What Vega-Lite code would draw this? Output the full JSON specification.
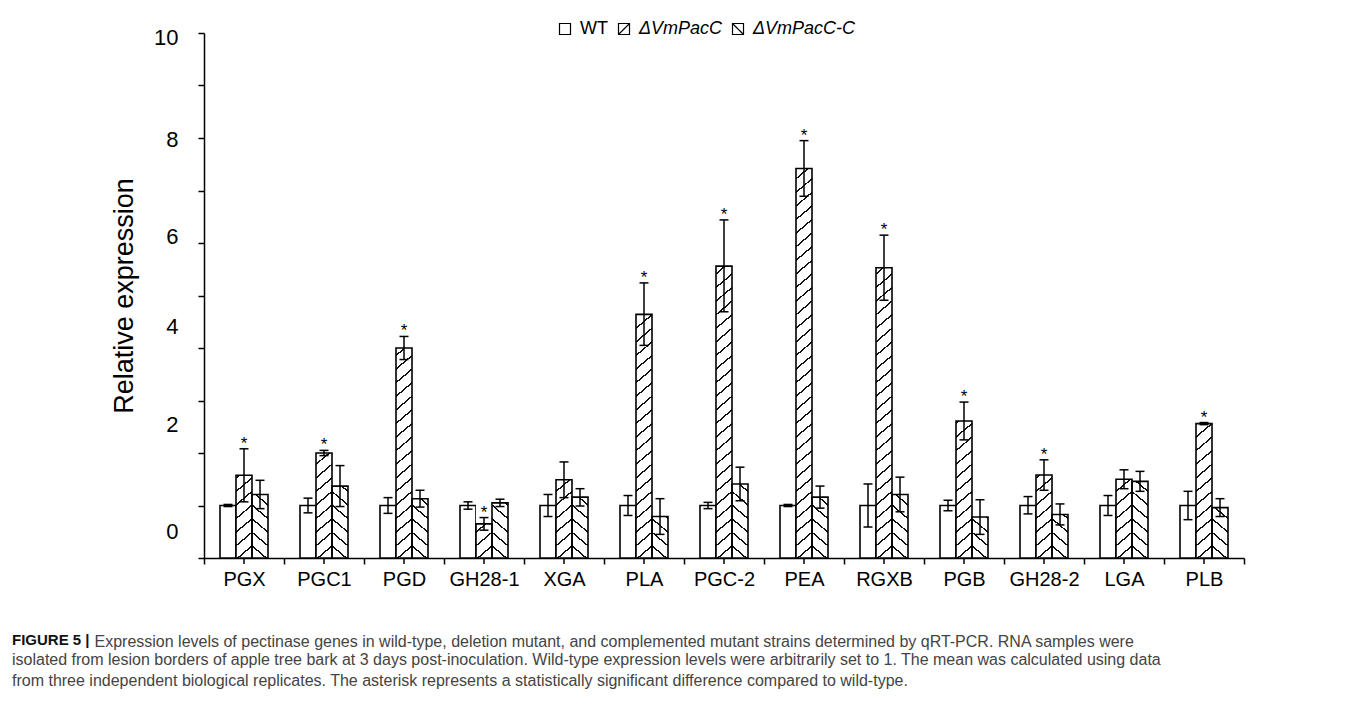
{
"$schema":"https://vega.github.io/schema/vega-lite/v6.json",
"width":1040,"height":525,
"autosize":{"type":"none"},
"padding":{"left":204,"top":33,"right":111,"bottom":147},
"background":"white",
"config":{"view":{"stroke":null},"font":"Liberation Sans","axis":{"labelFont":"Liberation Sans","titleFont":"Liberation Sans"}},
"title":{"text":"FIGURE 5 |","subtitle":["isolated from lesion borders of apple tree bark at 3 days post-inoculation. Wild-type expression levels were arbitrarily set to 1. The mean was calculated using data","from three independent biological replicates. The asterisk represents a statistically significant difference compared to wild-type."],"orient":"bottom","anchor":"start","frame":"group","offset":-16,"dx":-192,"font":"Liberation Sans","fontSize":15,"fontWeight":"bold","color":"#111","baseline":"top","subtitleFont":"Liberation Sans","subtitleFontSize":16,"subtitleFontWeight":"normal","subtitleColor":"#444","subtitleLineHeight":21,"subtitlePadding":4},
"data":{"values":[
{"gene":"PGX","series":"WT","value":1.0,"lo":0.98,"hi":1.02,"sig":false},
{"gene":"PGX","series":"ΔVmPacC","value":1.575,"lo":1.07,"hi":2.08,"sig":true},
{"gene":"PGX","series":"ΔVmPacC-C","value":1.21,"lo":0.94,"hi":1.48,"sig":false},
{"gene":"PGC1","series":"WT","value":1.0,"lo":0.86,"hi":1.14,"sig":false},
{"gene":"PGC1","series":"ΔVmPacC","value":2.0,"lo":1.95,"hi":2.05,"sig":true},
{"gene":"PGC1","series":"ΔVmPacC-C","value":1.37,"lo":0.98,"hi":1.76,"sig":false},
{"gene":"PGD","series":"WT","value":1.0,"lo":0.85,"hi":1.15,"sig":false},
{"gene":"PGD","series":"ΔVmPacC","value":4.0,"lo":3.78,"hi":4.22,"sig":true},
{"gene":"PGD","series":"ΔVmPacC-C","value":1.13,"lo":0.97,"hi":1.29,"sig":false},
{"gene":"GH28-1","series":"WT","value":1.0,"lo":0.93,"hi":1.07,"sig":false},
{"gene":"GH28-1","series":"ΔVmPacC","value":0.65,"lo":0.53,"hi":0.77,"sig":true},
{"gene":"GH28-1","series":"ΔVmPacC-C","value":1.05,"lo":0.98,"hi":1.12,"sig":false},
{"gene":"XGA","series":"WT","value":1.0,"lo":0.79,"hi":1.21,"sig":false},
{"gene":"XGA","series":"ΔVmPacC","value":1.49,"lo":1.15,"hi":1.83,"sig":false},
{"gene":"XGA","series":"ΔVmPacC-C","value":1.16,"lo":0.99,"hi":1.32,"sig":false},
{"gene":"PLA","series":"WT","value":1.0,"lo":0.81,"hi":1.19,"sig":false},
{"gene":"PLA","series":"ΔVmPacC","value":4.64,"lo":4.05,"hi":5.24,"sig":true},
{"gene":"PLA","series":"ΔVmPacC-C","value":0.79,"lo":0.45,"hi":1.13,"sig":false},
{"gene":"PGC-2","series":"WT","value":1.0,"lo":0.94,"hi":1.06,"sig":false},
{"gene":"PGC-2","series":"ΔVmPacC","value":5.56,"lo":4.69,"hi":6.44,"sig":true},
{"gene":"PGC-2","series":"ΔVmPacC-C","value":1.41,"lo":1.09,"hi":1.73,"sig":false},
{"gene":"PEA","series":"WT","value":1.0,"lo":0.98,"hi":1.02,"sig":false},
{"gene":"PEA","series":"ΔVmPacC","value":7.42,"lo":6.89,"hi":7.95,"sig":true},
{"gene":"PEA","series":"ΔVmPacC-C","value":1.16,"lo":0.95,"hi":1.37,"sig":false},
{"gene":"RGXB","series":"WT","value":1.0,"lo":0.59,"hi":1.41,"sig":false},
{"gene":"RGXB","series":"ΔVmPacC","value":5.53,"lo":4.91,"hi":6.15,"sig":true},
{"gene":"RGXB","series":"ΔVmPacC-C","value":1.21,"lo":0.88,"hi":1.54,"sig":false},
{"gene":"PGB","series":"WT","value":1.0,"lo":0.9,"hi":1.1,"sig":false},
{"gene":"PGB","series":"ΔVmPacC","value":2.61,"lo":2.25,"hi":2.97,"sig":true},
{"gene":"PGB","series":"ΔVmPacC-C","value":0.78,"lo":0.45,"hi":1.11,"sig":false},
{"gene":"GH28-2","series":"WT","value":1.0,"lo":0.84,"hi":1.17,"sig":false},
{"gene":"GH28-2","series":"ΔVmPacC","value":1.58,"lo":1.29,"hi":1.87,"sig":true},
{"gene":"GH28-2","series":"ΔVmPacC-C","value":0.83,"lo":0.63,"hi":1.03,"sig":false},
{"gene":"LGA","series":"WT","value":1.0,"lo":0.81,"hi":1.19,"sig":false},
{"gene":"LGA","series":"ΔVmPacC","value":1.5,"lo":1.32,"hi":1.68,"sig":false},
{"gene":"LGA","series":"ΔVmPacC-C","value":1.46,"lo":1.27,"hi":1.65,"sig":false},
{"gene":"PLB","series":"WT","value":1.0,"lo":0.73,"hi":1.27,"sig":false},
{"gene":"PLB","series":"ΔVmPacC","value":2.56,"lo":2.54,"hi":2.58,"sig":true},
{"gene":"PLB","series":"ΔVmPacC-C","value":0.96,"lo":0.79,"hi":1.13,"sig":false}
]},
"resolve":{"scale":{"shape":"independent"}},
"layer":[
{"transform":[{"filter":"datum.series === 'WT'"}],
 "mark":{"type":"bar","fill":"white","stroke":"black","strokeWidth":1.6,"opacity":1},
 "encoding":{
  "x":{"field":"gene","type":"nominal","scale":{"domain":["PGX","PGC1","PGD","GH28-1","XGA","PLA","PGC-2","PEA","RGXB","PGB","GH28-2","LGA","PLB"],"paddingInner":0,"paddingOuter":0},"axis":{"orient":"bottom","tickBand":"extent","labelAngle":0,"labelFontSize":20,"labelColor":"black","labelPadding":5,"domainColor":"black","domainWidth":1.5,"tickColor":"black","tickWidth":1.5,"tickSize":6,"labelOverlap":false,"title":"Expression levels of pectinase genes in wild-type, deletion mutant, and complemented mutant strains determined by qRT-PCR. RNA samples were","titleX":-110,"titleY":83,"titleAlign":"left","titleAnchor":"start","titleBaseline":"middle","titleAngle":0,"titleFontSize":16,"titleFontWeight":"normal","titleColor":"#444"}},
  "xOffset":{"field":"series","type":"nominal","scale":{"domain":["WT","ΔVmPacC","ΔVmPacC-C"],"paddingInner":0,"paddingOuter":1.44}},
  "y":{"field":"value","type":"quantitative","scale":{"domain":[0,10],"nice":false},"axis":{"orient":"left","values":[0,1,2,3,4,5,6,7,8,9,10],"labelExpr":"datum.value % 2 === 0 ? datum.label : ''","grid":false,"domainColor":"black","domainWidth":1.5,"tickColor":"black","tickWidth":1.5,"tickSize":6,"labelFontSize":22,"labelColor":"black","labelPadding":20,"labelFlush":false,"labelOverlap":false,"labelOffset":{"condition":[{"test":"datum.value === 0","value":-27},{"test":"datum.value === 2","value":-29},{"test":"datum.value === 4","value":-22},{"test":"datum.value === 6","value":-7},{"test":"datum.value === 8","value":1},{"test":"datum.value === 10","value":4}],"value":0},"title":"Relative expression","titleFontSize":27,"titleFontWeight":"normal","titleColor":"black","titlePadding":15}}}},
{"transform":[{"filter":"datum.series === 'ΔVmPacC'"}],
 "mark":{"type":"bar","strokeWidth":0,"opacity":1,"fill":{"gradient":"linear","x1":0,"y1":0,"x2":0.0358,"y2":1.0346,"stops":[{"offset":0,"color":"#fff"},{"offset":0.0333,"color":"#fff"},
{"offset":0.0333,"color":"#111"},{"offset":0.0378,"color":"#111"},{"offset":0.0378,"color":"#fff"},{"offset":0.0667,"color":"#fff"},
{"offset":0.0667,"color":"#111"},{"offset":0.0712,"color":"#111"},{"offset":0.0712,"color":"#fff"},{"offset":0.1,"color":"#fff"},
{"offset":0.1,"color":"#111"},{"offset":0.1045,"color":"#111"},{"offset":0.1045,"color":"#fff"},{"offset":0.1333,"color":"#fff"},
{"offset":0.1333,"color":"#111"},{"offset":0.1378,"color":"#111"},{"offset":0.1378,"color":"#fff"},{"offset":0.1667,"color":"#fff"},
{"offset":0.1667,"color":"#111"},{"offset":0.1712,"color":"#111"},{"offset":0.1712,"color":"#fff"},{"offset":0.2,"color":"#fff"},
{"offset":0.2,"color":"#111"},{"offset":0.2045,"color":"#111"},{"offset":0.2045,"color":"#fff"},{"offset":0.2333,"color":"#fff"},
{"offset":0.2333,"color":"#111"},{"offset":0.2378,"color":"#111"},{"offset":0.2378,"color":"#fff"},{"offset":0.2667,"color":"#fff"},
{"offset":0.2667,"color":"#111"},{"offset":0.2712,"color":"#111"},{"offset":0.2712,"color":"#fff"},{"offset":0.3,"color":"#fff"},
{"offset":0.3,"color":"#111"},{"offset":0.3045,"color":"#111"},{"offset":0.3045,"color":"#fff"},{"offset":0.3333,"color":"#fff"},
{"offset":0.3333,"color":"#111"},{"offset":0.3378,"color":"#111"},{"offset":0.3378,"color":"#fff"},{"offset":0.3667,"color":"#fff"},
{"offset":0.3667,"color":"#111"},{"offset":0.3712,"color":"#111"},{"offset":0.3712,"color":"#fff"},{"offset":0.4,"color":"#fff"},
{"offset":0.4,"color":"#111"},{"offset":0.4045,"color":"#111"},{"offset":0.4045,"color":"#fff"},{"offset":0.4333,"color":"#fff"},
{"offset":0.4333,"color":"#111"},{"offset":0.4378,"color":"#111"},{"offset":0.4378,"color":"#fff"},{"offset":0.4667,"color":"#fff"},
{"offset":0.4667,"color":"#111"},{"offset":0.4712,"color":"#111"},{"offset":0.4712,"color":"#fff"},{"offset":0.5,"color":"#fff"},
{"offset":0.5,"color":"#111"},{"offset":0.5045,"color":"#111"},{"offset":0.5045,"color":"#fff"},{"offset":0.5333,"color":"#fff"},
{"offset":0.5333,"color":"#111"},{"offset":0.5378,"color":"#111"},{"offset":0.5378,"color":"#fff"},{"offset":0.5667,"color":"#fff"},
{"offset":0.5667,"color":"#111"},{"offset":0.5712,"color":"#111"},{"offset":0.5712,"color":"#fff"},{"offset":0.6,"color":"#fff"},
{"offset":0.6,"color":"#111"},{"offset":0.6045,"color":"#111"},{"offset":0.6045,"color":"#fff"},{"offset":0.6333,"color":"#fff"},
{"offset":0.6333,"color":"#111"},{"offset":0.6378,"color":"#111"},{"offset":0.6378,"color":"#fff"},{"offset":0.6667,"color":"#fff"},
{"offset":0.6667,"color":"#111"},{"offset":0.6712,"color":"#111"},{"offset":0.6712,"color":"#fff"},{"offset":0.7,"color":"#fff"},
{"offset":0.7,"color":"#111"},{"offset":0.7045,"color":"#111"},{"offset":0.7045,"color":"#fff"},{"offset":0.7333,"color":"#fff"},
{"offset":0.7333,"color":"#111"},{"offset":0.7378,"color":"#111"},{"offset":0.7378,"color":"#fff"},{"offset":0.7667,"color":"#fff"},
{"offset":0.7667,"color":"#111"},{"offset":0.7712,"color":"#111"},{"offset":0.7712,"color":"#fff"},{"offset":0.8,"color":"#fff"},
{"offset":0.8,"color":"#111"},{"offset":0.8045,"color":"#111"},{"offset":0.8045,"color":"#fff"},{"offset":0.8333,"color":"#fff"},
{"offset":0.8333,"color":"#111"},{"offset":0.8378,"color":"#111"},{"offset":0.8378,"color":"#fff"},{"offset":0.8667,"color":"#fff"},
{"offset":0.8667,"color":"#111"},{"offset":0.8712,"color":"#111"},{"offset":0.8712,"color":"#fff"},{"offset":0.9,"color":"#fff"},
{"offset":0.9,"color":"#111"},{"offset":0.9045,"color":"#111"},{"offset":0.9045,"color":"#fff"},{"offset":0.9333,"color":"#fff"},
{"offset":0.9333,"color":"#111"},{"offset":0.9378,"color":"#111"},{"offset":0.9378,"color":"#fff"},{"offset":0.9667,"color":"#fff"},
{"offset":0.9667,"color":"#111"},{"offset":0.9712,"color":"#111"},{"offset":0.9712,"color":"#fff"},{"offset":1,"color":"#fff"}]}},
 "encoding":{
  "x":{"field":"gene","type":"nominal","scale":{"domain":["PGX","PGC1","PGD","GH28-1","XGA","PLA","PGC-2","PEA","RGXB","PGB","GH28-2","LGA","PLB"],"paddingInner":0,"paddingOuter":0},"axis":{"orient":"bottom","tickBand":"extent","labelAngle":0,"labelFontSize":20,"labelColor":"black","labelPadding":5,"domainColor":"black","domainWidth":1.5,"tickColor":"black","tickWidth":1.5,"tickSize":6,"labelOverlap":false,"title":"Expression levels of pectinase genes in wild-type, deletion mutant, and complemented mutant strains determined by qRT-PCR. RNA samples were","titleX":-110,"titleY":83,"titleAlign":"left","titleAnchor":"start","titleBaseline":"middle","titleAngle":0,"titleFontSize":16,"titleFontWeight":"normal","titleColor":"#444"}},
  "xOffset":{"field":"series","type":"nominal","scale":{"domain":["WT","ΔVmPacC","ΔVmPacC-C"],"paddingInner":0,"paddingOuter":1.44}},
  "y":{"datum":0,"type":"quantitative","scale":{"domain":[0,10],"nice":false},"axis":{"orient":"left","values":[0,1,2,3,4,5,6,7,8,9,10],"labelExpr":"datum.value % 2 === 0 ? datum.label : ''","grid":false,"domainColor":"black","domainWidth":1.5,"tickColor":"black","tickWidth":1.5,"tickSize":6,"labelFontSize":22,"labelColor":"black","labelPadding":20,"labelFlush":false,"labelOverlap":false,"labelOffset":{"condition":[{"test":"datum.value === 0","value":-27},{"test":"datum.value === 2","value":-29},{"test":"datum.value === 4","value":-22},{"test":"datum.value === 6","value":-7},{"test":"datum.value === 8","value":1},{"test":"datum.value === 10","value":4}],"value":0},"title":"Relative expression","titleFontSize":27,"titleFontWeight":"normal","titleColor":"black","titlePadding":15}},
  "y2":{"datum":7.5}}},
{"transform":[{"filter":"datum.series === 'ΔVmPacC-C'"}],
 "mark":{"type":"bar","strokeWidth":0,"opacity":1,"fill":{"gradient":"linear","x1":1,"y1":0,"x2":0.9643,"y2":1.0346,"stops":[{"offset":0,"color":"#fff"},{"offset":0.0333,"color":"#fff"},
{"offset":0.0333,"color":"#111"},{"offset":0.0378,"color":"#111"},{"offset":0.0378,"color":"#fff"},{"offset":0.0667,"color":"#fff"},
{"offset":0.0667,"color":"#111"},{"offset":0.0712,"color":"#111"},{"offset":0.0712,"color":"#fff"},{"offset":0.1,"color":"#fff"},
{"offset":0.1,"color":"#111"},{"offset":0.1045,"color":"#111"},{"offset":0.1045,"color":"#fff"},{"offset":0.1333,"color":"#fff"},
{"offset":0.1333,"color":"#111"},{"offset":0.1378,"color":"#111"},{"offset":0.1378,"color":"#fff"},{"offset":0.1667,"color":"#fff"},
{"offset":0.1667,"color":"#111"},{"offset":0.1712,"color":"#111"},{"offset":0.1712,"color":"#fff"},{"offset":0.2,"color":"#fff"},
{"offset":0.2,"color":"#111"},{"offset":0.2045,"color":"#111"},{"offset":0.2045,"color":"#fff"},{"offset":0.2333,"color":"#fff"},
{"offset":0.2333,"color":"#111"},{"offset":0.2378,"color":"#111"},{"offset":0.2378,"color":"#fff"},{"offset":0.2667,"color":"#fff"},
{"offset":0.2667,"color":"#111"},{"offset":0.2712,"color":"#111"},{"offset":0.2712,"color":"#fff"},{"offset":0.3,"color":"#fff"},
{"offset":0.3,"color":"#111"},{"offset":0.3045,"color":"#111"},{"offset":0.3045,"color":"#fff"},{"offset":0.3333,"color":"#fff"},
{"offset":0.3333,"color":"#111"},{"offset":0.3378,"color":"#111"},{"offset":0.3378,"color":"#fff"},{"offset":0.3667,"color":"#fff"},
{"offset":0.3667,"color":"#111"},{"offset":0.3712,"color":"#111"},{"offset":0.3712,"color":"#fff"},{"offset":0.4,"color":"#fff"},
{"offset":0.4,"color":"#111"},{"offset":0.4045,"color":"#111"},{"offset":0.4045,"color":"#fff"},{"offset":0.4333,"color":"#fff"},
{"offset":0.4333,"color":"#111"},{"offset":0.4378,"color":"#111"},{"offset":0.4378,"color":"#fff"},{"offset":0.4667,"color":"#fff"},
{"offset":0.4667,"color":"#111"},{"offset":0.4712,"color":"#111"},{"offset":0.4712,"color":"#fff"},{"offset":0.5,"color":"#fff"},
{"offset":0.5,"color":"#111"},{"offset":0.5045,"color":"#111"},{"offset":0.5045,"color":"#fff"},{"offset":0.5333,"color":"#fff"},
{"offset":0.5333,"color":"#111"},{"offset":0.5378,"color":"#111"},{"offset":0.5378,"color":"#fff"},{"offset":0.5667,"color":"#fff"},
{"offset":0.5667,"color":"#111"},{"offset":0.5712,"color":"#111"},{"offset":0.5712,"color":"#fff"},{"offset":0.6,"color":"#fff"},
{"offset":0.6,"color":"#111"},{"offset":0.6045,"color":"#111"},{"offset":0.6045,"color":"#fff"},{"offset":0.6333,"color":"#fff"},
{"offset":0.6333,"color":"#111"},{"offset":0.6378,"color":"#111"},{"offset":0.6378,"color":"#fff"},{"offset":0.6667,"color":"#fff"},
{"offset":0.6667,"color":"#111"},{"offset":0.6712,"color":"#111"},{"offset":0.6712,"color":"#fff"},{"offset":0.7,"color":"#fff"},
{"offset":0.7,"color":"#111"},{"offset":0.7045,"color":"#111"},{"offset":0.7045,"color":"#fff"},{"offset":0.7333,"color":"#fff"},
{"offset":0.7333,"color":"#111"},{"offset":0.7378,"color":"#111"},{"offset":0.7378,"color":"#fff"},{"offset":0.7667,"color":"#fff"},
{"offset":0.7667,"color":"#111"},{"offset":0.7712,"color":"#111"},{"offset":0.7712,"color":"#fff"},{"offset":0.8,"color":"#fff"},
{"offset":0.8,"color":"#111"},{"offset":0.8045,"color":"#111"},{"offset":0.8045,"color":"#fff"},{"offset":0.8333,"color":"#fff"},
{"offset":0.8333,"color":"#111"},{"offset":0.8378,"color":"#111"},{"offset":0.8378,"color":"#fff"},{"offset":0.8667,"color":"#fff"},
{"offset":0.8667,"color":"#111"},{"offset":0.8712,"color":"#111"},{"offset":0.8712,"color":"#fff"},{"offset":0.9,"color":"#fff"},
{"offset":0.9,"color":"#111"},{"offset":0.9045,"color":"#111"},{"offset":0.9045,"color":"#fff"},{"offset":0.9333,"color":"#fff"},
{"offset":0.9333,"color":"#111"},{"offset":0.9378,"color":"#111"},{"offset":0.9378,"color":"#fff"},{"offset":0.9667,"color":"#fff"},
{"offset":0.9667,"color":"#111"},{"offset":0.9712,"color":"#111"},{"offset":0.9712,"color":"#fff"},{"offset":1,"color":"#fff"}]}},
 "encoding":{
  "x":{"field":"gene","type":"nominal","scale":{"domain":["PGX","PGC1","PGD","GH28-1","XGA","PLA","PGC-2","PEA","RGXB","PGB","GH28-2","LGA","PLB"],"paddingInner":0,"paddingOuter":0},"axis":{"orient":"bottom","tickBand":"extent","labelAngle":0,"labelFontSize":20,"labelColor":"black","labelPadding":5,"domainColor":"black","domainWidth":1.5,"tickColor":"black","tickWidth":1.5,"tickSize":6,"labelOverlap":false,"title":"Expression levels of pectinase genes in wild-type, deletion mutant, and complemented mutant strains determined by qRT-PCR. RNA samples were","titleX":-110,"titleY":83,"titleAlign":"left","titleAnchor":"start","titleBaseline":"middle","titleAngle":0,"titleFontSize":16,"titleFontWeight":"normal","titleColor":"#444"}},
  "xOffset":{"field":"series","type":"nominal","scale":{"domain":["WT","ΔVmPacC","ΔVmPacC-C"],"paddingInner":0,"paddingOuter":1.44}},
  "y":{"datum":0,"type":"quantitative","scale":{"domain":[0,10],"nice":false},"axis":{"orient":"left","values":[0,1,2,3,4,5,6,7,8,9,10],"labelExpr":"datum.value % 2 === 0 ? datum.label : ''","grid":false,"domainColor":"black","domainWidth":1.5,"tickColor":"black","tickWidth":1.5,"tickSize":6,"labelFontSize":22,"labelColor":"black","labelPadding":20,"labelFlush":false,"labelOverlap":false,"labelOffset":{"condition":[{"test":"datum.value === 0","value":-27},{"test":"datum.value === 2","value":-29},{"test":"datum.value === 4","value":-22},{"test":"datum.value === 6","value":-7},{"test":"datum.value === 8","value":1},{"test":"datum.value === 10","value":4}],"value":0},"title":"Relative expression","titleFontSize":27,"titleFontWeight":"normal","titleColor":"black","titlePadding":15}},
  "y2":{"datum":7.5}}},
{"transform":[{"filter":"datum.series !== 'WT'"}],
 "mark":{"type":"bar","fill":"white","strokeWidth":0,"opacity":1},
 "encoding":{
  "x":{"field":"gene","type":"nominal","scale":{"domain":["PGX","PGC1","PGD","GH28-1","XGA","PLA","PGC-2","PEA","RGXB","PGB","GH28-2","LGA","PLB"],"paddingInner":0,"paddingOuter":0},"axis":{"orient":"bottom","tickBand":"extent","labelAngle":0,"labelFontSize":20,"labelColor":"black","labelPadding":5,"domainColor":"black","domainWidth":1.5,"tickColor":"black","tickWidth":1.5,"tickSize":6,"labelOverlap":false,"title":"Expression levels of pectinase genes in wild-type, deletion mutant, and complemented mutant strains determined by qRT-PCR. RNA samples were","titleX":-110,"titleY":83,"titleAlign":"left","titleAnchor":"start","titleBaseline":"middle","titleAngle":0,"titleFontSize":16,"titleFontWeight":"normal","titleColor":"#444"}},
  "xOffset":{"field":"series","type":"nominal","scale":{"domain":["WT","ΔVmPacC","ΔVmPacC-C"],"paddingInner":0,"paddingOuter":1.44}},
  "y":{"field":"value","type":"quantitative","scale":{"domain":[0,10],"nice":false},"axis":{"orient":"left","values":[0,1,2,3,4,5,6,7,8,9,10],"labelExpr":"datum.value % 2 === 0 ? datum.label : ''","grid":false,"domainColor":"black","domainWidth":1.5,"tickColor":"black","tickWidth":1.5,"tickSize":6,"labelFontSize":22,"labelColor":"black","labelPadding":20,"labelFlush":false,"labelOverlap":false,"labelOffset":{"condition":[{"test":"datum.value === 0","value":-27},{"test":"datum.value === 2","value":-29},{"test":"datum.value === 4","value":-22},{"test":"datum.value === 6","value":-7},{"test":"datum.value === 8","value":1},{"test":"datum.value === 10","value":4}],"value":0},"title":"Relative expression","titleFontSize":27,"titleFontWeight":"normal","titleColor":"black","titlePadding":15}},
  "y2":{"datum":7.6}}},
{"transform":[{"filter":"datum.series !== 'WT'"}],
 "mark":{"type":"bar","fill":"white","fillOpacity":0,"stroke":"black","strokeWidth":1.6,"opacity":1},
 "encoding":{
  "x":{"field":"gene","type":"nominal","scale":{"domain":["PGX","PGC1","PGD","GH28-1","XGA","PLA","PGC-2","PEA","RGXB","PGB","GH28-2","LGA","PLB"],"paddingInner":0,"paddingOuter":0},"axis":{"orient":"bottom","tickBand":"extent","labelAngle":0,"labelFontSize":20,"labelColor":"black","labelPadding":5,"domainColor":"black","domainWidth":1.5,"tickColor":"black","tickWidth":1.5,"tickSize":6,"labelOverlap":false,"title":"Expression levels of pectinase genes in wild-type, deletion mutant, and complemented mutant strains determined by qRT-PCR. RNA samples were","titleX":-110,"titleY":83,"titleAlign":"left","titleAnchor":"start","titleBaseline":"middle","titleAngle":0,"titleFontSize":16,"titleFontWeight":"normal","titleColor":"#444"}},
  "xOffset":{"field":"series","type":"nominal","scale":{"domain":["WT","ΔVmPacC","ΔVmPacC-C"],"paddingInner":0,"paddingOuter":1.44}},
  "y":{"field":"value","type":"quantitative","scale":{"domain":[0,10],"nice":false},"axis":{"orient":"left","values":[0,1,2,3,4,5,6,7,8,9,10],"labelExpr":"datum.value % 2 === 0 ? datum.label : ''","grid":false,"domainColor":"black","domainWidth":1.5,"tickColor":"black","tickWidth":1.5,"tickSize":6,"labelFontSize":22,"labelColor":"black","labelPadding":20,"labelFlush":false,"labelOverlap":false,"labelOffset":{"condition":[{"test":"datum.value === 0","value":-27},{"test":"datum.value === 2","value":-29},{"test":"datum.value === 4","value":-22},{"test":"datum.value === 6","value":-7},{"test":"datum.value === 8","value":1},{"test":"datum.value === 10","value":4}],"value":0},"title":"Relative expression","titleFontSize":27,"titleFontWeight":"normal","titleColor":"black","titlePadding":15}}}},
{"transform":[{"filter":"datum.series === 'WT'"}],
 "mark":{"type":"rule","color":"black","strokeWidth":1.5,"opacity":1},
 "encoding":{
  "x":{"field":"gene","type":"nominal","scale":{"domain":["PGX","PGC1","PGD","GH28-1","XGA","PLA","PGC-2","PEA","RGXB","PGB","GH28-2","LGA","PLB"],"paddingInner":0,"paddingOuter":0},"axis":{"orient":"bottom","tickBand":"extent","labelAngle":0,"labelFontSize":20,"labelColor":"black","labelPadding":5,"domainColor":"black","domainWidth":1.5,"tickColor":"black","tickWidth":1.5,"tickSize":6,"labelOverlap":false,"title":"Expression levels of pectinase genes in wild-type, deletion mutant, and complemented mutant strains determined by qRT-PCR. RNA samples were","titleX":-110,"titleY":83,"titleAlign":"left","titleAnchor":"start","titleBaseline":"middle","titleAngle":0,"titleFontSize":16,"titleFontWeight":"normal","titleColor":"#444"}},
  "y":{"datum":0,"type":"quantitative","scale":{"domain":[0,10],"nice":false},"axis":{"orient":"left","values":[0,1,2,3,4,5,6,7,8,9,10],"labelExpr":"datum.value % 2 === 0 ? datum.label : ''","grid":false,"domainColor":"black","domainWidth":1.5,"tickColor":"black","tickWidth":1.5,"tickSize":6,"labelFontSize":22,"labelColor":"black","labelPadding":20,"labelFlush":false,"labelOverlap":false,"labelOffset":{"condition":[{"test":"datum.value === 0","value":-27},{"test":"datum.value === 2","value":-29},{"test":"datum.value === 4","value":-22},{"test":"datum.value === 6","value":-7},{"test":"datum.value === 8","value":1},{"test":"datum.value === 10","value":4}],"value":0},"title":"Relative expression","titleFontSize":27,"titleFontWeight":"normal","titleColor":"black","titlePadding":15}},
  "y2":{"datum":-0.115}}},
{"mark":{"type":"rule","color":"black","strokeWidth":1.5,"opacity":1},
 "encoding":{
  "x":{"field":"gene","type":"nominal","scale":{"domain":["PGX","PGC1","PGD","GH28-1","XGA","PLA","PGC-2","PEA","RGXB","PGB","GH28-2","LGA","PLB"],"paddingInner":0,"paddingOuter":0},"axis":{"orient":"bottom","tickBand":"extent","labelAngle":0,"labelFontSize":20,"labelColor":"black","labelPadding":5,"domainColor":"black","domainWidth":1.5,"tickColor":"black","tickWidth":1.5,"tickSize":6,"labelOverlap":false,"title":"Expression levels of pectinase genes in wild-type, deletion mutant, and complemented mutant strains determined by qRT-PCR. RNA samples were","titleX":-110,"titleY":83,"titleAlign":"left","titleAnchor":"start","titleBaseline":"middle","titleAngle":0,"titleFontSize":16,"titleFontWeight":"normal","titleColor":"#444"}},
  "xOffset":{"field":"series","type":"nominal","scale":{"domain":["WT","ΔVmPacC","ΔVmPacC-C"],"paddingInner":0,"paddingOuter":1.44}},
  "y":{"field":"lo","type":"quantitative","scale":{"domain":[0,10],"nice":false},"axis":{"orient":"left","values":[0,1,2,3,4,5,6,7,8,9,10],"labelExpr":"datum.value % 2 === 0 ? datum.label : ''","grid":false,"domainColor":"black","domainWidth":1.5,"tickColor":"black","tickWidth":1.5,"tickSize":6,"labelFontSize":22,"labelColor":"black","labelPadding":20,"labelFlush":false,"labelOverlap":false,"labelOffset":{"condition":[{"test":"datum.value === 0","value":-27},{"test":"datum.value === 2","value":-29},{"test":"datum.value === 4","value":-22},{"test":"datum.value === 6","value":-7},{"test":"datum.value === 8","value":1},{"test":"datum.value === 10","value":4}],"value":0},"title":"Relative expression","titleFontSize":27,"titleFontWeight":"normal","titleColor":"black","titlePadding":15}},
  "y2":{"field":"hi"}}},
{"transform":[{"fold":["lo","hi"],"as":["end","yv"]}],
 "mark":{"type":"tick","orient":"horizontal","color":"black","thickness":1.5,"size":9,"opacity":1},
 "encoding":{
  "x":{"field":"gene","type":"nominal","scale":{"domain":["PGX","PGC1","PGD","GH28-1","XGA","PLA","PGC-2","PEA","RGXB","PGB","GH28-2","LGA","PLB"],"paddingInner":0,"paddingOuter":0},"axis":{"orient":"bottom","tickBand":"extent","labelAngle":0,"labelFontSize":20,"labelColor":"black","labelPadding":5,"domainColor":"black","domainWidth":1.5,"tickColor":"black","tickWidth":1.5,"tickSize":6,"labelOverlap":false,"title":"Expression levels of pectinase genes in wild-type, deletion mutant, and complemented mutant strains determined by qRT-PCR. RNA samples were","titleX":-110,"titleY":83,"titleAlign":"left","titleAnchor":"start","titleBaseline":"middle","titleAngle":0,"titleFontSize":16,"titleFontWeight":"normal","titleColor":"#444"}},
  "xOffset":{"field":"series","type":"nominal","scale":{"domain":["WT","ΔVmPacC","ΔVmPacC-C"],"paddingInner":0,"paddingOuter":1.44}},
  "y":{"field":"yv","type":"quantitative","scale":{"domain":[0,10],"nice":false},"axis":{"orient":"left","values":[0,1,2,3,4,5,6,7,8,9,10],"labelExpr":"datum.value % 2 === 0 ? datum.label : ''","grid":false,"domainColor":"black","domainWidth":1.5,"tickColor":"black","tickWidth":1.5,"tickSize":6,"labelFontSize":22,"labelColor":"black","labelPadding":20,"labelFlush":false,"labelOverlap":false,"labelOffset":{"condition":[{"test":"datum.value === 0","value":-27},{"test":"datum.value === 2","value":-29},{"test":"datum.value === 4","value":-22},{"test":"datum.value === 6","value":-7},{"test":"datum.value === 8","value":1},{"test":"datum.value === 10","value":4}],"value":0},"title":"Relative expression","titleFontSize":27,"titleFontWeight":"normal","titleColor":"black","titlePadding":15}}}},
{"transform":[{"filter":"datum.sig"}],
 "mark":{"type":"text","text":"*","fontSize":17,"baseline":"alphabetic","color":"black","font":"Liberation Sans"},
 "encoding":{
  "x":{"field":"gene","type":"nominal","scale":{"domain":["PGX","PGC1","PGD","GH28-1","XGA","PLA","PGC-2","PEA","RGXB","PGB","GH28-2","LGA","PLB"],"paddingInner":0,"paddingOuter":0},"axis":{"orient":"bottom","tickBand":"extent","labelAngle":0,"labelFontSize":20,"labelColor":"black","labelPadding":5,"domainColor":"black","domainWidth":1.5,"tickColor":"black","tickWidth":1.5,"tickSize":6,"labelOverlap":false,"title":"Expression levels of pectinase genes in wild-type, deletion mutant, and complemented mutant strains determined by qRT-PCR. RNA samples were","titleX":-110,"titleY":83,"titleAlign":"left","titleAnchor":"start","titleBaseline":"middle","titleAngle":0,"titleFontSize":16,"titleFontWeight":"normal","titleColor":"#444"}},
  "xOffset":{"field":"series","type":"nominal","scale":{"domain":["WT","ΔVmPacC","ΔVmPacC-C"],"paddingInner":0,"paddingOuter":1.44}},
  "y":{"field":"hi","type":"quantitative","scale":{"domain":[0,10],"nice":false},"axis":{"orient":"left","values":[0,1,2,3,4,5,6,7,8,9,10],"labelExpr":"datum.value % 2 === 0 ? datum.label : ''","grid":false,"domainColor":"black","domainWidth":1.5,"tickColor":"black","tickWidth":1.5,"tickSize":6,"labelFontSize":22,"labelColor":"black","labelPadding":20,"labelFlush":false,"labelOverlap":false,"labelOffset":{"condition":[{"test":"datum.value === 0","value":-27},{"test":"datum.value === 2","value":-29},{"test":"datum.value === 4","value":-22},{"test":"datum.value === 6","value":-7},{"test":"datum.value === 8","value":1},{"test":"datum.value === 10","value":4}],"value":0},"title":"Relative expression","titleFontSize":27,"titleFontWeight":"normal","titleColor":"black","titlePadding":15}}}},
{"transform":[{"filter":"datum.series === 'WT'"}],
 "mark":{"type":"point","opacity":0,"filled":false},
 "encoding":{
  "x":{"field":"gene","type":"nominal","scale":{"domain":["PGX","PGC1","PGD","GH28-1","XGA","PLA","PGC-2","PEA","RGXB","PGB","GH28-2","LGA","PLB"],"paddingInner":0,"paddingOuter":0},"axis":{"orient":"bottom","tickBand":"extent","labelAngle":0,"labelFontSize":20,"labelColor":"black","labelPadding":5,"domainColor":"black","domainWidth":1.5,"tickColor":"black","tickWidth":1.5,"tickSize":6,"labelOverlap":false,"title":"Expression levels of pectinase genes in wild-type, deletion mutant, and complemented mutant strains determined by qRT-PCR. RNA samples were","titleX":-110,"titleY":83,"titleAlign":"left","titleAnchor":"start","titleBaseline":"middle","titleAngle":0,"titleFontSize":16,"titleFontWeight":"normal","titleColor":"#444"}},
  "y":{"field":"value","type":"quantitative","scale":{"domain":[0,10],"nice":false},"axis":{"orient":"left","values":[0,1,2,3,4,5,6,7,8,9,10],"labelExpr":"datum.value % 2 === 0 ? datum.label : ''","grid":false,"domainColor":"black","domainWidth":1.5,"tickColor":"black","tickWidth":1.5,"tickSize":6,"labelFontSize":22,"labelColor":"black","labelPadding":20,"labelFlush":false,"labelOverlap":false,"labelOffset":{"condition":[{"test":"datum.value === 0","value":-27},{"test":"datum.value === 2","value":-29},{"test":"datum.value === 4","value":-22},{"test":"datum.value === 6","value":-7},{"test":"datum.value === 8","value":1},{"test":"datum.value === 10","value":4}],"value":0},"title":"Relative expression","titleFontSize":27,"titleFontWeight":"normal","titleColor":"black","titlePadding":15}},
  "shape":{"field":"series","type":"nominal","scale":{"domain":["WT"],"range":["M-1,-1H1V1H-1Z"]},
   "legend":{"orient":"none","legendX":352,"legendY":-13,"direction":"horizontal","title":null,"padding":0,"symbolSize":121,"symbolStrokeWidth":1.2,"symbolStrokeColor":"black","symbolFillColor":"white","symbolOpacity":1,"labelFont":"Liberation Sans","labelFontSize":18,"labelColor":"black","labelOffset":6}}}},
{"transform":[{"filter":"datum.series !== 'WT'"}],
 "mark":{"type":"point","opacity":0,"filled":false},
 "encoding":{
  "x":{"field":"gene","type":"nominal","scale":{"domain":["PGX","PGC1","PGD","GH28-1","XGA","PLA","PGC-2","PEA","RGXB","PGB","GH28-2","LGA","PLB"],"paddingInner":0,"paddingOuter":0},"axis":{"orient":"bottom","tickBand":"extent","labelAngle":0,"labelFontSize":20,"labelColor":"black","labelPadding":5,"domainColor":"black","domainWidth":1.5,"tickColor":"black","tickWidth":1.5,"tickSize":6,"labelOverlap":false,"title":"Expression levels of pectinase genes in wild-type, deletion mutant, and complemented mutant strains determined by qRT-PCR. RNA samples were","titleX":-110,"titleY":83,"titleAlign":"left","titleAnchor":"start","titleBaseline":"middle","titleAngle":0,"titleFontSize":16,"titleFontWeight":"normal","titleColor":"#444"}},
  "y":{"field":"value","type":"quantitative","scale":{"domain":[0,10],"nice":false},"axis":{"orient":"left","values":[0,1,2,3,4,5,6,7,8,9,10],"labelExpr":"datum.value % 2 === 0 ? datum.label : ''","grid":false,"domainColor":"black","domainWidth":1.5,"tickColor":"black","tickWidth":1.5,"tickSize":6,"labelFontSize":22,"labelColor":"black","labelPadding":20,"labelFlush":false,"labelOverlap":false,"labelOffset":{"condition":[{"test":"datum.value === 0","value":-27},{"test":"datum.value === 2","value":-29},{"test":"datum.value === 4","value":-22},{"test":"datum.value === 6","value":-7},{"test":"datum.value === 8","value":1},{"test":"datum.value === 10","value":4}],"value":0},"title":"Relative expression","titleFontSize":27,"titleFontWeight":"normal","titleColor":"black","titlePadding":15}},
  "shape":{"field":"series","type":"nominal","scale":{"domain":["ΔVmPacC","ΔVmPacC-C"],"range":["M-1,-1H1V1H-1Z M-1,1L1,-1","M-1,-1H1V1H-1Z M-1,-1L1,1"]},
   "legend":{"orient":"none","legendX":411,"legendY":-13,"direction":"horizontal","title":null,"padding":0,"symbolSize":121,"symbolStrokeWidth":1.2,"symbolStrokeColor":"black","symbolFillColor":"white","symbolOpacity":1,"labelFont":"Liberation Sans","labelFontSize":18,"labelFontStyle":"italic","labelColor":"black","labelOffset":6,"columnPadding":6}}}}
]
}
